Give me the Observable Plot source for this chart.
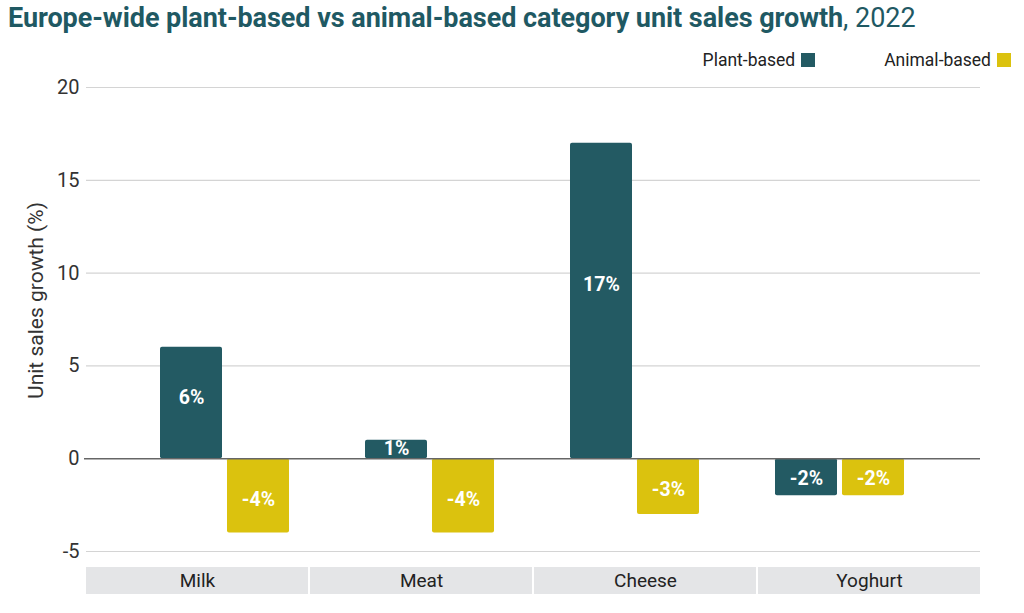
<!DOCTYPE html>
<html>
<head>
<meta charset="utf-8">
<script src="https://cdn.jsdelivr.net/npm/d3@7"></script>
<script src="https://cdn.jsdelivr.net/npm/@observablehq/plot@0.6"></script>
<style>
  html, body { margin: 0; padding: 0; background: #fff; }
  body { width: 1024px; height: 613px; position: relative; overflow: hidden; font-family: Roboto, "Noto Sans", sans-serif; }
  #title { position: absolute; left: 8px; top: 0px; font-size: 27px; line-height: 36px; color: #1f5963; white-space: nowrap; letter-spacing: -0.05px; }
  #title b { font-weight: 700; }
  #title span { font-weight: 400; }
  #legend { position: absolute; top: 50px; left: 0; width: 1011px; display: flex; justify-content: flex-end; gap: 69px; font-size: 17.5px; color: #222; }
  .item { display: flex; align-items: center; gap: 6px; line-height: 20px; }
  .sw { width: 14px; height: 14px; display: inline-block; }
  #main { position: absolute; top: 75px; left: 0; }
  #bands { position: absolute; top: 565px; left: 0; }
</style>
</head>
<body>
<div id="title"><b>Europe-wide plant-based vs animal-based category unit sales growth</b><span>, 2022</span></div>
<div id="legend"></div>
<div id="main"></div>
<div id="bands"></div>
<script>
const categories = ["Milk", "Meat", "Cheese", "Yoghurt"];
const series = ["Plant-based", "Animal-based"];
const plantBased = [6, 1, 17, -2];
const animalBased = [-4, -4, -3, -2];
const seriesColors = ["#235a63", "#dbc20e"];
const yTicks = [-5, 0, 5, 10, 15, 20];
const yLabel = "Unit sales growth (%)";

const plantData = categories.map((c, i) => ({category: c, series: series[0], value: plantBased[i]}));
const animalData = categories.map((c, i) => ({category: c, series: series[1], value: animalBased[i]}));

// legend
const legend = document.getElementById("legend");
series.forEach((s, i) => {
  const item = document.createElement("div");
  item.className = "item";
  const t = document.createElement("span");
  t.textContent = s;
  const sw = document.createElement("span");
  sw.className = "sw";
  sw.style.background = seriesColors[i];
  item.appendChild(t);
  item.appendChild(sw);
  legend.appendChild(item);
});

const labelFmt = d => `${d.value}%`;
const labelY = d => d.value * 0.55;
const barInset = 67;
const labelShift = 33.5;

const main = Plot.plot({
  width: 1024,
  height: 490,
  marginLeft: 84,
  marginRight: 44,
  marginTop: 12,
  marginBottom: 14,
  style: {fontSize: "20px", color: "#333", background: "transparent", fontFamily: "Roboto, 'Noto Sans', sans-serif"},
  x: {domain: categories, padding: 0.37, axis: null},
  y: {domain: [-5, 20], ticks: yTicks, tickSize: 0, tickPadding: 5, tickFormat: d => String(d), label: null},
  marks: [
    Plot.ruleY(yTicks.filter(d => d !== 0), {stroke: "#d4d4d4", strokeWidth: 1.2, insetLeft: 2}),
    Plot.barY(plantData, {x: "category", y: "value", fill: seriesColors[0], insetRight: barInset, rx: 2}),
    Plot.barY(animalData, {x: "category", y: "value", fill: seriesColors[1], insetLeft: barInset, rx: 2}),
    Plot.ruleY([0], {stroke: "#666", strokeWidth: 1.6}),
    Plot.text(plantData, {x: "category", y: labelY, dx: -labelShift, text: labelFmt, fill: "white", fontWeight: "bold", fontSize: 19.5}),
    Plot.text(animalData, {x: "category", y: labelY, dx: labelShift, text: labelFmt, fill: "white", fontWeight: "bold", fontSize: 19.5}),
    Plot.text([yLabel], {frameAnchor: "left", textAnchor: "middle", rotate: -90, dx: -48, dy: -19, text: d => d, fill: "#333", fontSize: 21})
  ]
});
document.getElementById("main").appendChild(main);

const bands = Plot.plot({
  width: 1024,
  height: 32,
  marginLeft: 84,
  marginRight: 42,
  marginTop: 2,
  marginBottom: 3,
  style: {fontSize: "19px", color: "#222", background: "transparent", fontFamily: "Roboto, 'Noto Sans', sans-serif"},
  x: {domain: categories, padding: 0, axis: null},
  marks: [
    Plot.cell(categories, {x: d => d, fill: "#e4e5e7", insetLeft: 1, insetRight: 1}),
    Plot.text(categories, {x: d => d, frameAnchor: "middle", text: d => d, fill: "#222", fontSize: 19})
  ]
});
document.getElementById("bands").appendChild(bands);
</script>
</body>
</html>
